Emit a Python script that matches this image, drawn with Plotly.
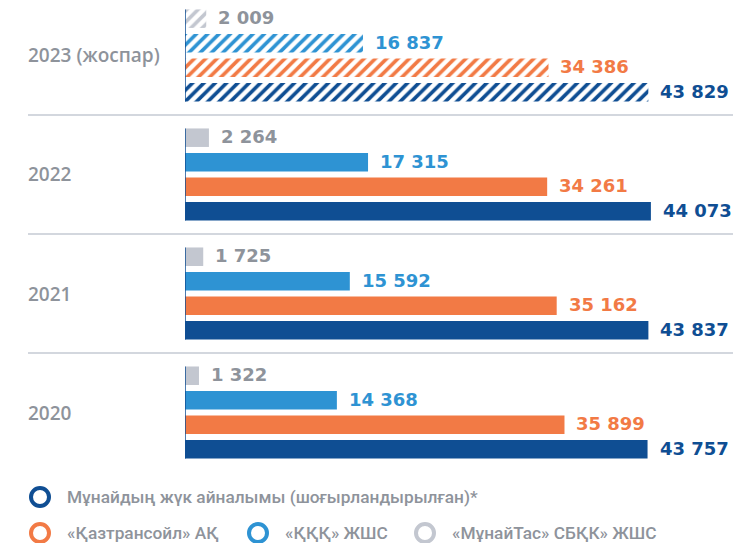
import plotly.graph_objects as go

years = ["2020", "2021", "2022", "2023 (жоспар)"]
turnover = [43757, 43837, 44073, 43829]
kaztransoil = [35899, 35162, 34261, 34386]
kkk = [14368, 15592, 17315, 16837]
munaitas = [1322, 1725, 2264, 2009]

series_names = [
    "Мұнайдың жүк айналымы (шоғырландырылған)*",
    "«Қазтрансойл» АҚ",
    "«ҚҚҚ» ЖШС",
    "«МұнайТас» СБҚК» ЖШС",
]
series_values = [turnover, kaztransoil, kkk, munaitas]
bar_colors = ["#0f4e93", "#f27a45", "#2e93d3", "#c3c7d0"]
text_colors = ["#0f4e93", "#f27a45", "#2e93d3", "#8e939b"]
plan_flags = [False, False, False, True]

def fmt(v):
    return f"{v:,}".replace(",", " ")

fig = go.Figure()
for name, vals, col in zip(series_names, series_values, bar_colors):
    fig.add_trace(go.Bar(
        y=years, x=vals, orientation="h", name=name,
        marker=dict(
            color=col, line=dict(width=0),
            pattern=dict(
                shape=["/" if p else "" for p in plan_flags],
                fgcolor=col, bgcolor="white", size=8, solidity=0.45,
                fillmode="replace",
            ),
        ),
        showlegend=False, hoverinfo="skip",
    ))

ngroups = len(years)
nser = len(series_values)
bargap = 0.176
bargroupgap = 0.245
slot = (1 - bargap) / nser

annotations = []
shapes = []
for si, (vals, tcol) in enumerate(zip(series_values, text_colors)):
    for gi, v in enumerate(vals):
        ypos = gi - (1 - bargap) / 2 + slot * (si + 0.5)
        annotations.append(dict(
            x=v, y=ypos, xref="x", yref="y", text=fmt(v), showarrow=False,
            xanchor="left", yanchor="middle", xshift=10, yshift=1,
            font=dict(family="DejaVu Sans", size=18, color=tcol, weight=700),
        ))

label_x = -0.2865
for gi, yl in enumerate(years):
    annotations.append(dict(
        x=label_x, y=gi, xref="paper", yref="y", text=yl, showarrow=False,
        xanchor="left", yanchor="middle", xshift=-2,
        font=dict(family="Open Sans", size=19, color="#8e939b", weight=600),
    ))
    half = (1 - bargap) / 2 - slot * bargroupgap / 2
    shapes.append(dict(type="line", xref="x", yref="y", x0=0, x1=0,
                       y0=gi - half, y1=gi + half,
                       line=dict(color="#0f4e93", width=1.5)))
    if gi < ngroups - 1:
        shapes.append(dict(type="line", xref="paper", yref="y", x0=label_x, x1=1,
                           y0=gi + 0.5, y1=gi + 0.5,
                           line=dict(color="#d3d7de", width=2)))

# custom legend
leg_pos = {0: ((40 - 185) / 548, -0.0574), 1: ((40 - 185) / 548, -0.134),
           2: ((258 - 185) / 548, -0.134), 3: ((425 - 185) / 548, -0.134)}
for si in range(nser):
    lx, ly = leg_pos[si]
    shapes.append(dict(type="circle", xref="paper", yref="paper",
                       xsizemode="pixel", ysizemode="pixel",
                       xanchor=lx, yanchor=ly, x0=-9, x1=9, y0=-9, y1=9,
                       line=dict(color=bar_colors[si], width=4),
                       fillcolor="rgba(0,0,0,0)"))
    annotations.append(dict(
        x=lx, y=ly, xref="paper", yref="paper", text=series_names[si],
        showarrow=False, xanchor="left", yanchor="middle", xshift=25,
        font=dict(family="Roboto", size=17.3, color="#8e939b", weight=500),
    ))

fig.update_layout(
    width=733, height=543,
    margin=dict(l=185, r=0, t=0, b=73),
    barmode="group", bargap=bargap, bargroupgap=bargroupgap,
    plot_bgcolor="white", paper_bgcolor="white",
    xaxis=dict(range=[0, 51840], visible=False, fixedrange=True),
    yaxis=dict(range=[-0.483, 3.466], showticklabels=False, showgrid=False,
               zeroline=False, showline=False, ticks=""),
    annotations=annotations, shapes=shapes,
)
fig.write_html("out.html")
